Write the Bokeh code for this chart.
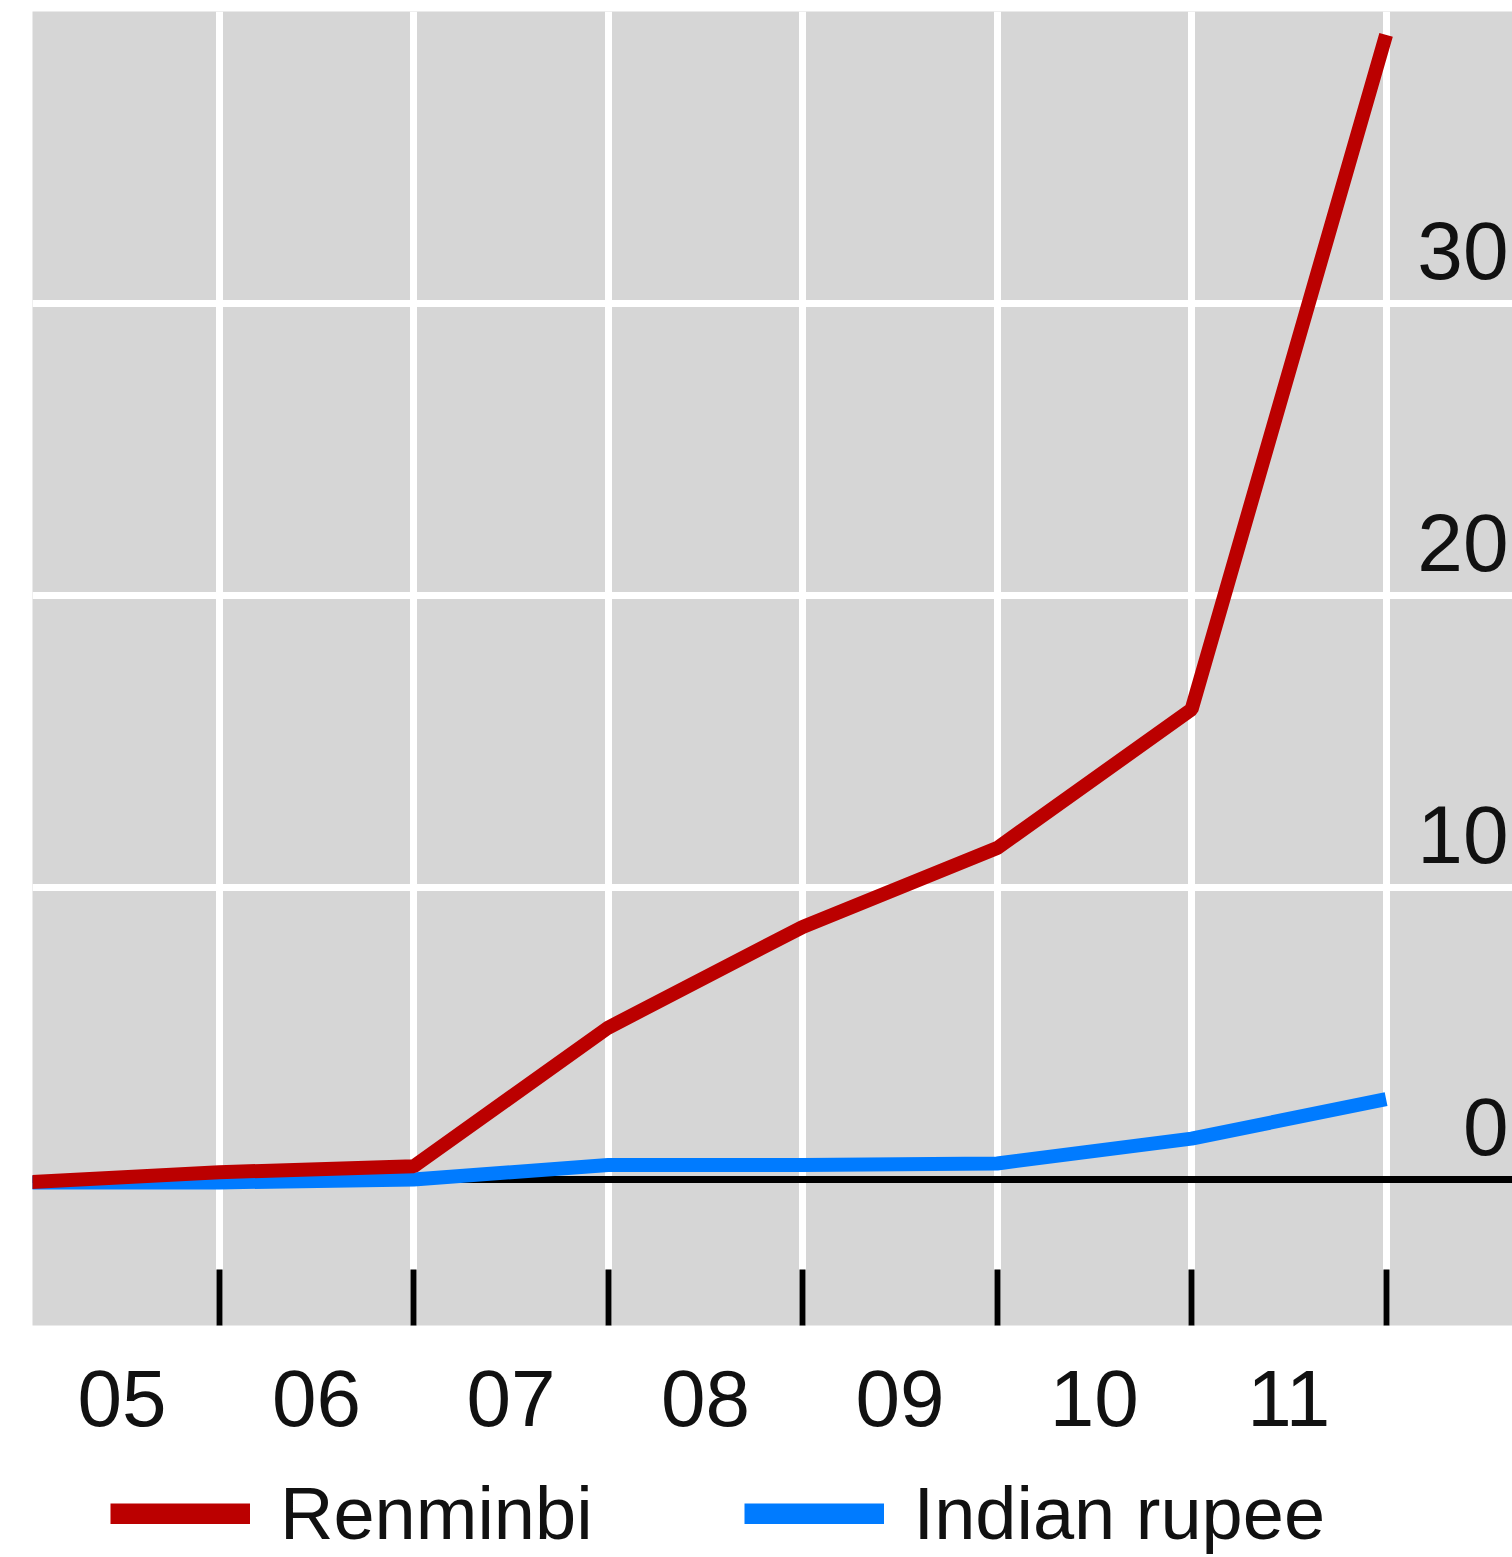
from bokeh.plotting import figure
from bokeh.layouts import column
from bokeh.models import FixedTicker, Span, Legend, LegendItem, ColumnDataSource
from bokeh.core.properties import value
from bokeh.embed import file_html
from bokeh.resources import INLINE

# ---- data ----
years = [2005, 2006, 2007, 2008, 2009, 2010, 2011, 2012]
renminbi = [-0.1, 0.25, 0.45, 5.2, 8.65, 11.35, 16.1, 39.2]
rupee = [-0.1, -0.1, 0.0, 0.5, 0.5, 0.55, 1.4, 2.75]
year_labels = ["05", "06", "07", "08", "09", "10", "11"]
y_ticks = [0, 10, 20, 30]
y_tick_labels = ["0", "10", "20", "30"]
series_names = ["Renminbi", "Indian rupee"]

RED = "#BB0000"
BLUE = "#007BFF"
BG = "#D6D6D6"
FONT = "Liberation Sans"

X_START, X_END = 2005.04, 2012.65
Y_START, Y_END = -5, 40

MAIN_H = 1468
LEG_H = 1557 - MAIN_H

p = figure(width=1512, height=MAIN_H,
           x_range=(X_START, X_END), y_range=(Y_START, Y_END),
           output_backend="svg", toolbar_location=None,
           min_border_left=32, min_border_right=0, min_border_top=11,
           min_border_bottom=MAIN_H - 1325,
           background_fill_color=BG, border_fill_color="white",
           outline_line_color=None)

p.yaxis.visible = False

# grids
p.xgrid.ticker = FixedTicker(ticks=years[1:])
p.ygrid.ticker = FixedTicker(ticks=[t for t in y_ticks if t != 0])
p.grid.grid_line_color = "white"
p.grid.grid_line_width = 7
p.grid.grid_line_alpha = 1.0

# zero line
p.add_layout(Span(location=0, dimension="width", line_color="black",
                  line_width=7, level="underlay"))

# x axis: labels at year centres, inward minor ticks at year boundaries
centres = [y + 0.5 for y in years[:-1]]
p.xaxis.ticker = FixedTicker(ticks=centres, minor_ticks=years[1:])
p.xaxis.major_label_overrides = {c: lab for c, lab in zip(centres, year_labels)}
p.xaxis.axis_line_color = None
p.xaxis.major_tick_line_color = None
p.xaxis.major_tick_in = 0
p.xaxis.major_tick_out = 0
p.xaxis.minor_tick_in = 56
p.xaxis.minor_tick_out = 0
p.xaxis.minor_tick_line_color = "black"
p.xaxis.minor_tick_line_width = 6
p.xaxis.major_label_text_font = FONT
p.xaxis.major_label_text_font_size = "80px"
p.xaxis.major_label_text_color = "#111111"
p.xaxis.major_label_standoff = 45

# y tick labels inside the plot, right-aligned, above their grid lines
ysrc = ColumnDataSource(dict(x=[X_END] * len(y_ticks), y=y_ticks, t=y_tick_labels))
p.text(x="x", y="y", text="t", source=ysrc, text_align="right",
       text_baseline="middle", y_offset=-53, x_offset=-4,
       text_font=value(FONT), text_font_size="82px", text_color="#111111")

# lines
src = ColumnDataSource(dict(x=years, rmb=renminbi, inr=rupee))
r_blue = p.line(x="x", y="inr", source=src, line_color=BLUE, line_width=14)
r_red = p.line(x="x", y="rmb", source=src, line_color=RED, line_width=14)

# ---- legend strip below the chart ----
lf = figure(width=1512, height=LEG_H, x_range=(0, 1), y_range=(0, 1),
            output_backend="svg", toolbar_location=None,
            x_axis_location=None, y_axis_location=None,
            min_border=0, outline_line_color=None,
            background_fill_color="white", border_fill_color="white")
lf.grid.visible = False
nan = float("nan")
sw_red = lf.line(x=[nan, nan], y=[nan, nan], line_color=RED, line_width=21)
sw_blue = lf.line(x=[nan, nan], y=[nan, nan], line_color=BLUE, line_width=21)

legend = Legend(items=[LegendItem(label=series_names[0], renderers=[sw_red]),
                       LegendItem(label=series_names[1], renderers=[sw_blue])],
                orientation="horizontal", location=(78, 1),
                glyph_width=140, glyph_height=21, label_standoff=30, spacing=151,
                padding=0, margin=0, border_line_color=None,
                background_fill_alpha=0,
                label_text_font=FONT, label_text_font_size="74px",
                label_text_color="#111111")
lf.add_layout(legend, "center")

layout = column(p, lf, spacing=0)
open("out.html", "w").write(file_html(layout, INLINE))
